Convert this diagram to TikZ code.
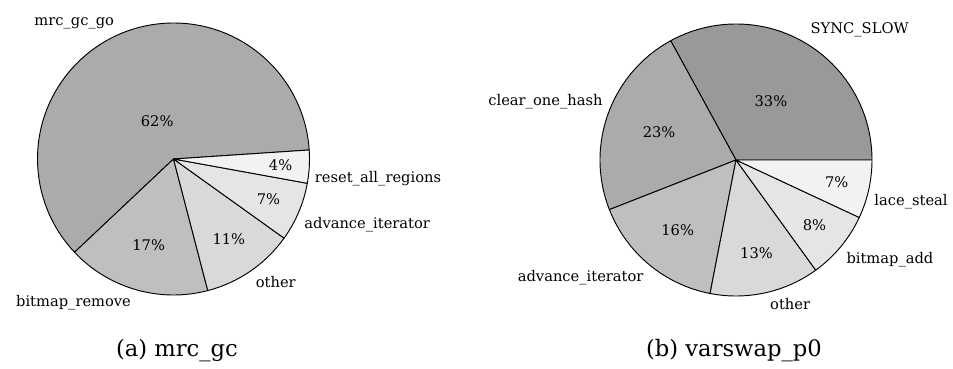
\documentclass[tikz,border=0pt]{standalone}
\usepackage{fontspec}
\setmainfont{DejaVu Serif}
\usetikzlibrary{calc}
\usepackage{xcolor}
\tikzset{
    SliceLine/.style={draw=black, line width=0.7pt, line join=round},
    PctText/.style={font=\fontsize{11}{13}\selectfont},
    NameText/.style={font=\fontsize{11}{13}\selectfont},
    CaptionText/.style={font=\fontsize{17}{20}\selectfont}
}

\begin{document}
\begin{tikzpicture}[x=0.75pt, y=0.75pt]
    \useasboundingbox (0,0) rectangle (953,368);
    \def\pieR{136}

    % (a) mrc_gc
    \coordinate (cA) at (173.5,209);
    \foreach \a/\b/\pct/\name/\col [count=\i] in {3.8/223.3/62/mrc\_gc\_go/black!33, 223.3/284.6/17/bitmap\_remove/black!25, 284.6/324.4/11/other/black!15, 324.4/349.7/7/advance\_iterator/black!10, 349.7/363.8/4/reset\_all\_regions/black!5} {
        \pgfmathsetmacro{\midAng}{(\a+\b)/2}
        \pgfmathsetmacro{\inPos}{(max(min((\b-\a-10)/110*(-0.3),0),-0.5)+0.8)*\pieR}
        \draw[SliceLine, fill=\col] (cA) -- ($(cA)+(\a:\pieR)$) arc[start angle=\a, end angle=\b, radius=\pieR] -- cycle;
        \node[PctText] (pA\i) at ($(cA)+(\midAng:\inPos)$) {\pct\%};
        \node[inner sep=0pt, label={[NameText]\midAng:\name}] (nA\i) at ($(cA)+(\midAng:\pieR)$) {};
    }
    \node[CaptionText, anchor=base] (capA) at (177,12) {(a) mrc\_gc};

    % (b) varswap_p0
    \coordinate (cB) at (736,208);
    \foreach \a/\b/\pct/\name/\col [count=\i] in {0/118.7/33/SYNC\_SLOW/black!40, 118.7/201.4/23/clear\_one\_hash/black!33, 201.4/259/16/advance\_iterator/black!25, 259/305.9/13/other/black!15, 305.9/335/8/bitmap\_add/black!10, 335/360/7/lace\_steal/black!5} {
        \pgfmathsetmacro{\midAng}{(\a+\b)/2}
        \pgfmathsetmacro{\inPos}{(max(min((\b-\a-10)/110*(-0.3),0),-0.5)+0.8)*\pieR}
        \draw[SliceLine, fill=\col] (cB) -- ($(cB)+(\a:\pieR)$) arc[start angle=\a, end angle=\b, radius=\pieR] -- cycle;
        \node[PctText] (pB\i) at ($(cB)+(\midAng:\inPos)$) {\pct\%};
        \node[inner sep=0pt, label={[NameText]\midAng:\name}] (nB\i) at ($(cB)+(\midAng:\pieR)$) {};
    }
    \node[CaptionText, anchor=base] (capB) at (734,12) {(b) varswap\_p0};
\end{tikzpicture}
\end{document}
